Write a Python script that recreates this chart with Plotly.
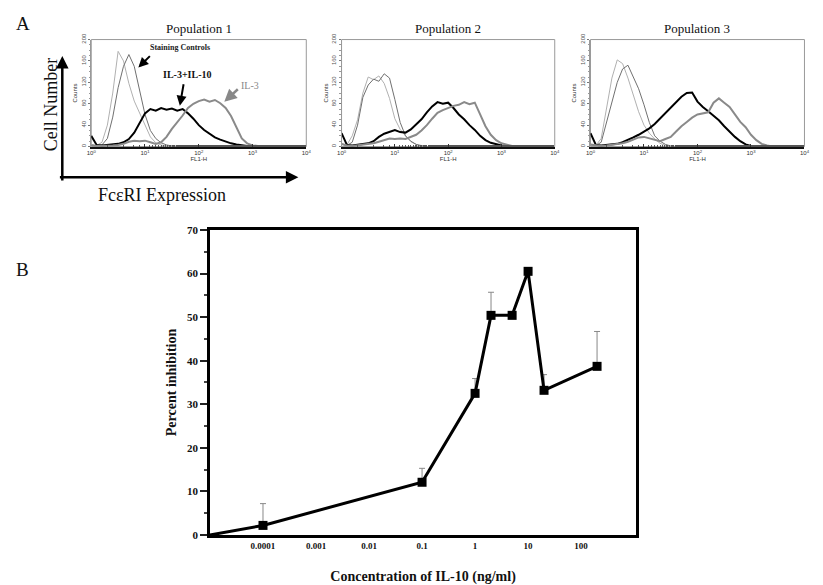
import plotly.graph_objects as go

W, H = 823, 585
SERIF = "Liberation Serif"
SANS = "Liberation Sans"

# ---------------- Panel A data (log10 fluorescence bins vs counts) ----------------
log_bins = [0.0, 0.1, 0.2, 0.3, 0.4, 0.5, 0.6, 0.7, 0.8, 0.9,
            1.0, 1.1, 1.2, 1.3, 1.4, 1.5, 1.6, 1.7, 1.8, 1.9,
            2.0, 2.1, 2.2, 2.3, 2.4, 2.5, 2.6, 2.7, 2.8, 2.9,
            3.0, 3.1, 3.2, 3.3, 3.4, 3.5]

pop1_ctrl1 = [3, 2, 8, 40, 100, 178, 160, 118, 85, 62, 40, 18, 7, 3, 1, 0, 0, 0, 0, 0,
              0, 0, 0, 0, 0, 0, 0, 0, 0, 0, 0, 0, 0, 0, 0, 0]
pop1_ctrl2 = [2, 1, 3, 15, 55, 110, 150, 172, 150, 105, 60, 30, 15, 7, 3, 1, 0, 0, 0, 0,
              0, 0, 0, 0, 0, 0, 0, 0, 0, 0, 0, 0, 0, 0, 0, 0]
pop1_il3il10 = [20, 3, 2, 3, 3, 5, 8, 14, 26, 45, 62, 70, 67, 72, 69, 71, 67, 70, 62, 52,
                40, 31, 24, 17, 13, 9, 6, 4, 2, 1, 0, 0, 0, 0, 0, 0]
pop1_il3 = [3, 1, 1, 1, 2, 3, 5, 9, 11, 10, 11, 8, 5, 8, 18, 33, 45, 58, 72, 80,
            85, 88, 84, 87, 81, 72, 57, 35, 15, 6, 2, 1, 0, 0, 0, 0]

pop2_ctrl1 = [5, 3, 20, 50, 100, 130, 125, 132, 118, 90, 52, 32, 20, 9, 4, 2, 0, 0, 0, 0,
              0, 0, 0, 0, 0, 0, 0, 0, 0, 0, 0, 0, 0, 0, 0, 0]
pop2_ctrl2 = [4, 2, 8, 40, 92, 115, 126, 122, 136, 128, 88, 45, 20, 10, 4, 1, 0, 0, 0, 0,
              0, 0, 0, 0, 0, 0, 0, 0, 0, 0, 0, 0, 0, 0, 0, 0]
pop2_il3il10 = [25, 3, 2, 3, 4, 6, 10, 18, 24, 28, 31, 27, 26, 32, 42, 51, 64, 75, 83, 80,
                82, 72, 60, 51, 40, 31, 20, 12, 7, 4, 2, 1, 0, 0, 0, 0]
pop2_il3 = [5, 2, 1, 2, 3, 4, 6, 9, 12, 15, 14, 15, 14, 18, 22, 30, 40, 52, 63, 68,
            72, 76, 78, 83, 79, 82, 60, 38, 22, 12, 6, 3, 1, 0, 0, 0]

pop3_ctrl1 = [4, 2, 15, 70, 128, 162, 155, 128, 95, 65, 40, 25, 14, 6, 2, 0, 0, 0, 0, 0,
              0, 0, 0, 0, 0, 0, 0, 0, 0, 0, 0, 0, 0, 0, 0, 0]
pop3_ctrl2 = [3, 2, 8, 45, 85, 120, 145, 152, 130, 108, 78, 45, 20, 10, 4, 1, 0, 0, 0, 0,
              0, 0, 0, 0, 0, 0, 0, 0, 0, 0, 0, 0, 0, 0, 0, 0]
pop3_il3il10 = [25, 3, 2, 3, 4, 5, 8, 12, 17, 22, 28, 34, 42, 52, 62, 72, 82, 93, 100, 101,
                84, 74, 66, 57, 49, 38, 28, 18, 10, 4, 1, 0, 0, 0, 0, 0]
pop3_il3 = [4, 2, 1, 2, 3, 4, 6, 9, 13, 17, 18, 15, 12, 10, 14, 18, 28, 38, 46, 54,
            60, 62, 64, 82, 90, 82, 74, 60, 46, 36, 22, 12, 5, 2, 0, 0]

populations = ["Population 1", "Population 2", "Population 3"]
hist_data = [
    (pop1_ctrl1, pop1_ctrl2, pop1_il3il10, pop1_il3),
    (pop2_ctrl1, pop2_ctrl2, pop2_il3il10, pop2_il3),
    (pop3_ctrl1, pop3_ctrl2, pop3_il3il10, pop3_il3),
]
hist_ticks = [1, 10, 100, 1000, 10000]
hist_ticktext = ["10<sup>0</sup>", "10<sup>1</sup>", "10<sup>2</sup>", "10<sup>3</sup>", "10<sup>4</sup>"]
count_ticks = [0, 40, 80, 120, 160, 200]

# ---------------- Panel B data ----------------
# first point is the 0 ng/ml control, drawn at the axis origin (1e-5)
conc = [0.00001, 0.0001, 0.1, 1, 2, 5, 10, 20, 200]
inhibition = [0, 2.2, 12.1, 32.5, 50.4, 50.4, 60.5, 33.2, 38.7]
err_plus = [0, 5.0, 3.2, 3.4, 5.3, 0, 0, 3.6, 8.0]
marker_sizes = [0, 9, 9, 9, 9, 9, 9, 9, 9]
conc_ticks = [0.0001, 0.001, 0.01, 0.1, 1, 10, 100]
conc_ticktext = ["0.0001", "0.001", "0.01", "0.1", "1", "10", "100"]


def px(x):
    return x / W


def py(y):
    return 1 - y / H


fig = go.Figure()
layout = dict(width=W, height=H, margin=dict(l=0, r=0, t=0, b=0),
              paper_bgcolor="white", plot_bgcolor="white", showlegend=False)

hist_x_domains = [(87.3, 305.0), (340.7, 556.5), (592.7, 809.3)]
hist_y_domain = [py(142.7), py(33.3)]
shapes = []
annotations = []

styles = [("#b0b0b0", 1.0), ("#707070", 1.0), ("#000000", 2.0), ("#8a8a8a", 2.0)]

for i, (dom, series) in enumerate(zip(hist_x_domains, hist_data), start=1):
    xa = "x" if i == 1 else f"x{i}"
    ya = "y" if i == 1 else f"y{i}"
    for s, (col, wid) in zip(series, styles):
        fig.add_trace(go.Scatter(x=[10 ** b for b in log_bins], y=s, mode="lines",
                                 line=dict(color=col, width=wid), xaxis=xa, yaxis=ya,
                                 hoverinfo="skip"))
    layout[f"xaxis{'' if i == 1 else i}"] = dict(
        domain=[px(dom[0]), px(dom[1])], anchor=ya, type="log", range=[0, 4],
        tickvals=hist_ticks, ticktext=hist_ticktext, tickfont=dict(family=SANS, size=6, color="#333"),
        ticks="inside", ticklen=3, tickcolor="#333", showline=True, linecolor="#111", linewidth=1.5,
        showgrid=False, zeroline=False,
        minor=dict(ticks="inside", ticklen=2, tickcolor="#555", showgrid=False),
        title=dict(text="FL1-H", font=dict(family=SANS, size=6, color="#333"), standoff=1))
    layout[f"yaxis{'' if i == 1 else i}"] = dict(
        domain=hist_y_domain, anchor=xa, range=[0, 200], tickvals=count_ticks,
        tickangle=-90, tickfont=dict(family=SANS, size=6, color="#555"),
        ticks="outside", ticklen=2, tickcolor="#777", showline=True, linecolor="#999", linewidth=1,
        showgrid=False, zeroline=False,
        minor=dict(dtick=10, ticks="outside", ticklen=1.5, tickcolor="#999", showgrid=False),
        title=dict(text="Counts", font=dict(family=SANS, size=6, color="#333"), standoff=2))
    shapes.append(dict(type="rect", xref=f"{xa} domain", yref=f"{ya} domain", x0=0, x1=1, y0=0, y1=1,
                       line=dict(color="#999", width=1), layer="below"))
    annotations.append(dict(text=populations[i - 1], x=px((dom[0] + dom[1]) / 2), y=py(22),
                            font=dict(family=SERIF, size=13, color="#111")))

# ---------------- Panel B ----------------
fig.add_trace(go.Scatter(
    x=conc, y=inhibition, mode="lines+markers", xaxis="x4", yaxis="y4",
    line=dict(color="black", width=3),
    marker=dict(symbol="square", size=marker_sizes, color="black", opacity=1,
                line=dict(color="black", width=0)),
    error_y=dict(type="data", array=err_plus, arrayminus=[0] * len(err_plus), symmetric=False,
                 color="#888", thickness=1, width=3),
    cliponaxis=False))

layout["xaxis4"] = dict(
    domain=[px(207.5), px(639)], anchor="y4", type="log", range=[-5, 3.04],
    tickvals=conc_ticks, ticktext=conc_ticktext,
    tickfont=dict(family=SERIF, size=9, color="#111", weight="bold"),
    ticks="", showline=True, mirror=True, linecolor="black", linewidth=2.5,
    showgrid=False, zeroline=False,
    title=dict(text="<b>Concentration of IL-10 (ng/ml)</b>", font=dict(family=SERIF, size=14, color="#111"),
               standoff=22))
layout["yaxis4"] = dict(
    domain=[py(540), py(228)], anchor="x4", range=[0, 70], dtick=10,
    tickfont=dict(family=SERIF, size=11, color="#111", weight="bold"),
    ticks="outside", ticklen=7, tickwidth=1.5, tickcolor="#222",
    showline=True, mirror=True, linecolor="black", linewidth=2.5,
    showgrid=False, zeroline=False,
    minor=dict(dtick=5, ticks="outside", ticklen=3, tickcolor="#444", showgrid=False),
    title=dict(text="<b>Percent inhibition</b>", font=dict(family=SERIF, size=14, color="#111"),
               standoff=8))

# ---------------- Text and arrows ----------------
annotations += [
    dict(text="A", x=px(18), y=py(17), font=dict(family=SERIF, size=19, color="#111")),
    dict(text="B", x=px(18), y=py(268), font=dict(family=SERIF, size=19, color="#111")),
    dict(text="Cell Number", x=px(46), y=py(100), textangle=-90,
         font=dict(family=SERIF, size=18, color="#111")),
    dict(text="FcεRI Expression", x=px(159), y=py(192), font=dict(family=SERIF, size=18, color="#111")),
    dict(text="<b>Staining Controls</b>", x=px(177), y=py(41), font=dict(family=SERIF, size=8, color="#222")),
    dict(text="<b>IL-3+IL-10</b>", x=px(184), y=py(69), font=dict(family=SERIF, size=10, color="#111")),
    dict(text="IL-3", x=px(248), y=py(80), font=dict(family=SERIF, size=10, color="#888")),
]
for a in annotations:
    a.setdefault("xref", "paper")
    a.setdefault("yref", "paper")
    a.setdefault("showarrow", False)
    a.setdefault("xanchor", "center")
    a.setdefault("yanchor", "middle")

arrows = [
    # (head_x, head_y, tail dx, tail dy, color, width)
    (58, 50, 0, 126, "black", 2.5),
    (297, 174, -240, 0, "black", 2.5),
    (135, 62, 13, -13, "black", 2),
    (177, 101, 4, -23, "black", 2),
    (222, 97, 15, -14, "#888", 2.5),
]
for hx, hy, dx, dy, col, wd in arrows:
    annotations.append(dict(text="", x=px(hx), y=py(hy), xref="paper", yref="paper",
                            showarrow=True, ax=dx, ay=dy, axref="pixel", ayref="pixel",
                            arrowhead=2, arrowsize=1, arrowwidth=wd, arrowcolor=col))

layout["shapes"] = shapes
layout["annotations"] = annotations
fig.update_layout(**layout)
fig.write_html("out.html", config={"displayModeBar": False},
               post_script="document.body.style.margin='0';document.body.style.overflow='hidden';")
